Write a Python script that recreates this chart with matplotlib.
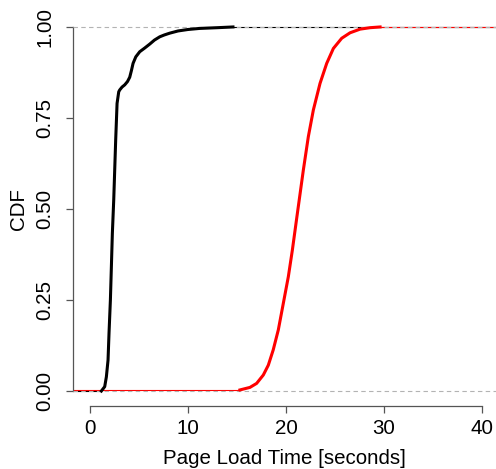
import matplotlib
matplotlib.use("Agg")
import matplotlib.pyplot as plt

plt.rcParams['font.family'] = ['Liberation Sans', 'DejaVu Sans']

# Black series: ECDF points (seconds, cumulative fraction)
black_x = [1.19, 1.53, 1.70, 1.87, 1.97, 2.11, 2.21, 2.31, 2.45, 2.65, 2.79, 2.96, 3.06,
           3.3, 3.57, 3.85, 4.08, 4.25, 4.42, 4.7, 5.1, 5.6, 6.12, 6.6, 7.14, 7.6,
           8.16, 9.0, 10.0, 11.2, 13.0, 14.6]
black_y = [0.0, 0.012, 0.039, 0.085, 0.159, 0.25, 0.341, 0.433, 0.525, 0.69, 0.79, 0.822,
           0.827, 0.835, 0.841, 0.85, 0.862, 0.88, 0.9, 0.918, 0.932, 0.942, 0.953, 0.964,
           0.973, 0.978, 0.983, 0.989, 0.993, 0.996, 0.998, 1.0]

# Red series
red_x = [15.31, 16.33, 17.01, 17.69, 18.2, 18.7, 19.22, 19.73, 20.24, 20.65, 21.09,
         21.77, 22.28, 22.79, 23.47, 24.15, 24.83, 25.68, 26.53, 27.55, 28.57, 29.59]
red_y = [0.003, 0.01, 0.021, 0.044, 0.071, 0.113, 0.168, 0.241, 0.314, 0.387, 0.474,
         0.607, 0.699, 0.772, 0.845, 0.9, 0.941, 0.969, 0.984, 0.994, 0.998, 1.0]

x_ticks = [0, 10, 20, 30, 40]
y_ticks = [0.0, 0.25, 0.5, 0.75, 1.0]
y_tick_labels = ["0.00", "0.25", "0.50", "0.75", "1.00"]

W, H = 496, 469
fig = plt.figure(figsize=(W / 100, H / 100), dpi=100)
left, right, top, bottom = 73, 496, 12.4, 405.6
ax = fig.add_axes([left / W, 1 - bottom / H, (right - left) / W, (bottom - top) / H])

xmin, xmax = -1.7, 41.4
ax.set_xlim(xmin, xmax)
ax.set_ylim(-0.04, 1.04)

# thin extensions of each step function
for xs, ys, c in [(black_x, black_y, 'black'), (red_x, red_y, 'red')]:
    ax.plot([xmin, xs[0]], [ys[0], ys[0]], color=c, lw=0.8, solid_capstyle='butt')
    ax.plot([xs[-1], xmax], [ys[-1], ys[-1]], color=c, lw=0.8, solid_capstyle='butt')

for yv in (0, 1):
    ax.axhline(yv, color='#b3b3b3', lw=0.8, ls=(0, (4, 3)), zorder=3)

ax.plot(black_x, black_y, color='black', lw=2.2, zorder=4, solid_joinstyle='round')
ax.plot(red_x, red_y, color='red', lw=2.2, zorder=4, solid_joinstyle='round')

for s in ('top', 'right'):
    ax.spines[s].set_visible(False)
ax.spines['left'].set_bounds(0, 1)
ax.spines['bottom'].set_bounds(0, 40)
for s in ('left', 'bottom'):
    ax.spines[s].set_color('#555555')
    ax.spines[s].set_linewidth(0.9)

ax.set_xticks(x_ticks)
ax.set_yticks(y_ticks)
ax.set_yticklabels(y_tick_labels, rotation=90, va='center')
ax.tick_params(axis='both', direction='out', length=5, width=0.9, color='#555555',
               labelsize=14.8, labelcolor='black')
ax.tick_params(axis='x', pad=4.3)
ax.tick_params(axis='y', pad=8.4)

ax.set_xlabel("Page Load Time [seconds]", fontsize=14.8, labelpad=8)
ax.set_ylabel("CDF", fontsize=14.8, labelpad=5)

fig.savefig("out.png", dpi=100)
